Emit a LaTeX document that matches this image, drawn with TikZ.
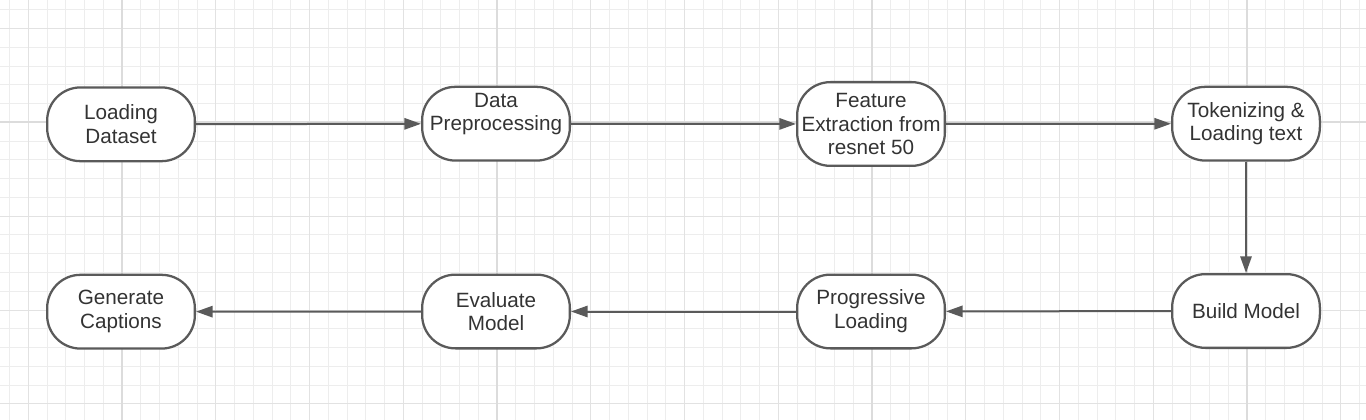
\documentclass[tikz,border=0pt]{standalone}
\usepackage{fontspec}
\setmainfont{Liberation Sans}
\usetikzlibrary{arrows.meta}
\definecolor{edge}{HTML}{5A5A5A}
\definecolor{txtc}{HTML}{333333}
\definecolor{gminor}{HTML}{EDEDED}
\definecolor{gmid}{HTML}{E2E2E2}
\definecolor{gmajor}{HTML}{DCDCDC}
\tikzset{
  stadium/.style={draw=edge, line width=1.7pt, fill=white, rounded corners=25pt,
    minimum width=110.8pt, minimum height=55.3pt, inner sep=0pt,
    text=txtc, align=center, font=\fontsize{15.5}{17.8}\selectfont},
  tall/.style={minimum height=62.8pt},
  txtonly/.style={text=txtc, align=center, inner sep=0pt, font=\fontsize{15.5}{17.8}\selectfont},
  flow/.style={draw=edge, line width=1.5pt, -{Triangle[length=12.5pt,width=8.5pt]}}
}
\begin{document}
\begin{tikzpicture}[x=0.75pt,y=-0.75pt]
\useasboundingbox (0,0) rectangle (1366,420);
\fill[white] (0,0) rectangle (1366,420);
% grid
\foreach \k in {0,...,72} {
  \draw[gminor, line width=0.75pt] ({9.5+18.75*\k},0) -- ({9.5+18.75*\k},420);
}
\foreach \k in {0,...,21} {
  \draw[gminor, line width=0.75pt] (0,{10+18.75*\k}) -- (1366,{10+18.75*\k});
}
\foreach \k in {-1,...,13} {
  \draw[gmid, line width=0.75pt] ({122+93.75*\k},0) -- ({122+93.75*\k},420);
}
\foreach \k in {-1,...,3} {
  \draw[gmid, line width=0.75pt] (0,{122.5+93.75*\k}) -- (1366,{122.5+93.75*\k});
}
\foreach \k in {0,...,3} {
  \draw[gmajor, line width=1.5pt] ({122+375*\k},0) -- ({122+375*\k},420);
}
\draw[gmajor, line width=1.5pt] (0,122.5) -- (1366,122.5);

% nodes
\node[stadium] (ld) at (121,124.3) {Loading\\Dataset};
\node[stadium] (dp) at (496,123.7) {};
\node[txtonly] (dpt) at (496,114) {Data\\Preprocessing};
\node[stadium, tall] (fe) at (871,124) {Feature\\Extraction from\\resnet 50};
\node[stadium] (tk) at (1246,123.7) {Tokenizing \&\\Loading text};
\node[stadium] (bm) at (1246,311) {Build Model};
\node[stadium] (pl) at (871,311.5) {Progressive\\Loading};
\node[stadium] (em) at (496,311.5) {Evaluate\\Model};
\node[stadium] (gc) at (121,311.7) {Generate\\Captions};

% connectors
\draw[flow] (ld) -- (dp);
\draw[flow] (dp) -- (fe);
\draw[flow] (fe) -- (tk);
\draw[flow] (tk) -- (bm);
\draw[flow] (bm) -- (pl);
\draw[flow] (pl) -- (em);
\draw[flow] (em) -- (gc);
\end{tikzpicture}
\end{document}
